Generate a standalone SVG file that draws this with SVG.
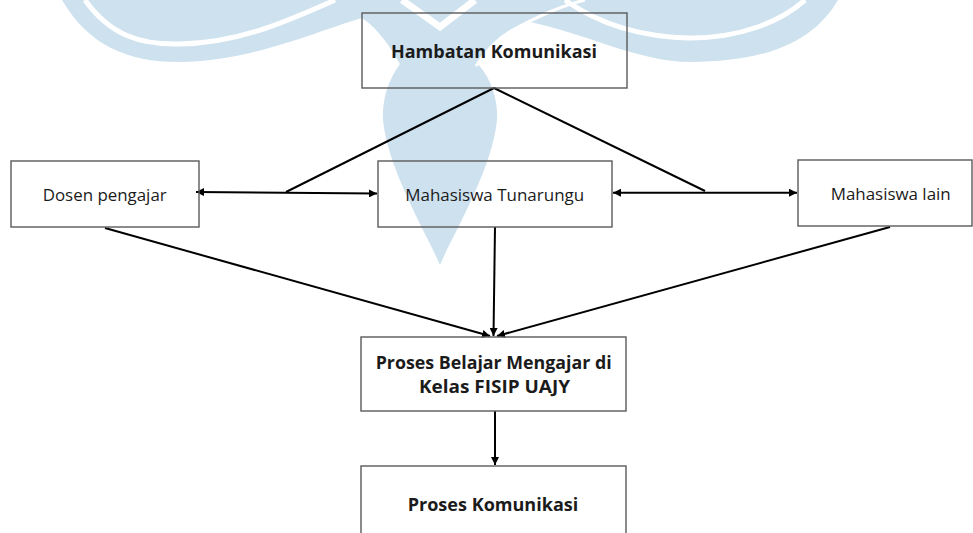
<svg xmlns="http://www.w3.org/2000/svg" width="973" height="533" viewBox="0 0 973 533">
  <style>
    .box { fill: none; stroke: #5a5a5a; stroke-width: 1.4; }
    .lbl { font-family: "Open Sans", "Liberation Sans", sans-serif; font-size: 16px; fill: #1b1b1b; text-anchor: middle; }
    .bold { font-weight: 700; font-size: 17px; }
    .conn { fill: none; stroke: #000; stroke-width: 2; }
    .wm { fill: #cde1ee; }
    .wl { fill: none; stroke: #fff; }
  </style>
  <defs>
    <marker id="arr" viewBox="0 0 8 8" refX="8" refY="4" markerWidth="8" markerHeight="8" markerUnits="userSpaceOnUse" orient="auto-start-reverse">
      <path d="M0,0 L8,4 L0,8 Z" fill="#000"/>
    </marker>
  </defs>
  <rect width="973" height="533" fill="#fff"/>

  <g id="watermark">
    <path class="wm" d="M 62,0 C 88,45 128,62 178,62 C 250,62 320,30 362,18 C 380,30 392,50 400,64 C 388,80 382,100 383,120 C 388,170 425,230 440,265 C 455,230 492,170 497,120 C 498,100 492,80 478,64 C 490,45 505,32 530,22 C 590,35 640,62 690,62 C 760,62 812,45 838,0 Z"/>
    <path class="wl" stroke-width="5" d="M 85,0 C 110,35 140,45 180,44 C 240,43 290,20 335,0"/>
    <path class="wl" stroke-width="7" d="M 402,0 L 440,27 L 475,0"/>
    <path class="wl" stroke-width="3" d="M 476,66 C 488,48 500,36 520,26 C 540,16 560,6 585,0"/>
    <path class="wl" stroke-width="5" d="M 565,0 C 600,25 640,37 690,38 C 740,38 780,22 805,0"/>
  </g>

  <g id="connectors">
    <path class="conn" d="M 494,88 L 286,192"/>
    <path class="conn" d="M 494,88 L 705,191"/>
    <path class="conn" d="M 196,192 L 377,193.5" marker-start="url(#arr)" marker-end="url(#arr)"/>
    <path class="conn" d="M 613,192.7 L 797,192.7" marker-start="url(#arr)" marker-end="url(#arr)"/>
    <path class="conn" d="M 105,228 L 490,336" marker-end="url(#arr)"/>
    <path class="conn" d="M 495,227 L 493.5,336" marker-end="url(#arr)"/>
    <path class="conn" d="M 890,227 L 497,336" marker-end="url(#arr)"/>
    <path class="conn" d="M 495,411 L 495,465" marker-end="url(#arr)"/>
  </g>

  <g id="hambatan">
    <rect class="box" x="362" y="13" width="265" height="75"/>
    <text class="lbl bold" x="494" y="58" textLength="206" lengthAdjust="spacingAndGlyphs">Hambatan Komunikasi</text>
  </g>
  <g id="dosen">
    <rect class="box" x="11" y="161" width="188" height="66"/>
    <text class="lbl" x="104.7" y="200.5" textLength="124" lengthAdjust="spacingAndGlyphs">Dosen pengajar</text>
  </g>
  <g id="mahasiswa-tunarungu">
    <rect class="box" x="378" y="161" width="234" height="66"/>
    <text class="lbl" x="494.7" y="200.5" textLength="179" lengthAdjust="spacingAndGlyphs">Mahasiswa Tunarungu</text>
  </g>
  <g id="mahasiswa-lain">
    <rect class="box" x="798" y="160" width="174" height="66"/>
    <text class="lbl" x="890.7" y="199.5" textLength="120" lengthAdjust="spacingAndGlyphs">Mahasiswa lain</text>
  </g>
  <g id="proses-belajar">
    <rect class="box" x="361" y="337" width="265" height="74"/>
    <text class="lbl bold" x="493.7" y="369.3" textLength="236" lengthAdjust="spacingAndGlyphs">Proses Belajar Mengajar di</text>
    <text class="lbl bold" x="494.5" y="393.3" textLength="151" lengthAdjust="spacingAndGlyphs">Kelas FISIP UAJY</text>
  </g>
  <g id="proses-komunikasi">
    <rect class="box" x="361" y="466" width="265" height="80"/>
    <text class="lbl bold" x="493" y="510.7" textLength="170.6" lengthAdjust="spacingAndGlyphs">Proses Komunikasi</text>
  </g>
</svg>
